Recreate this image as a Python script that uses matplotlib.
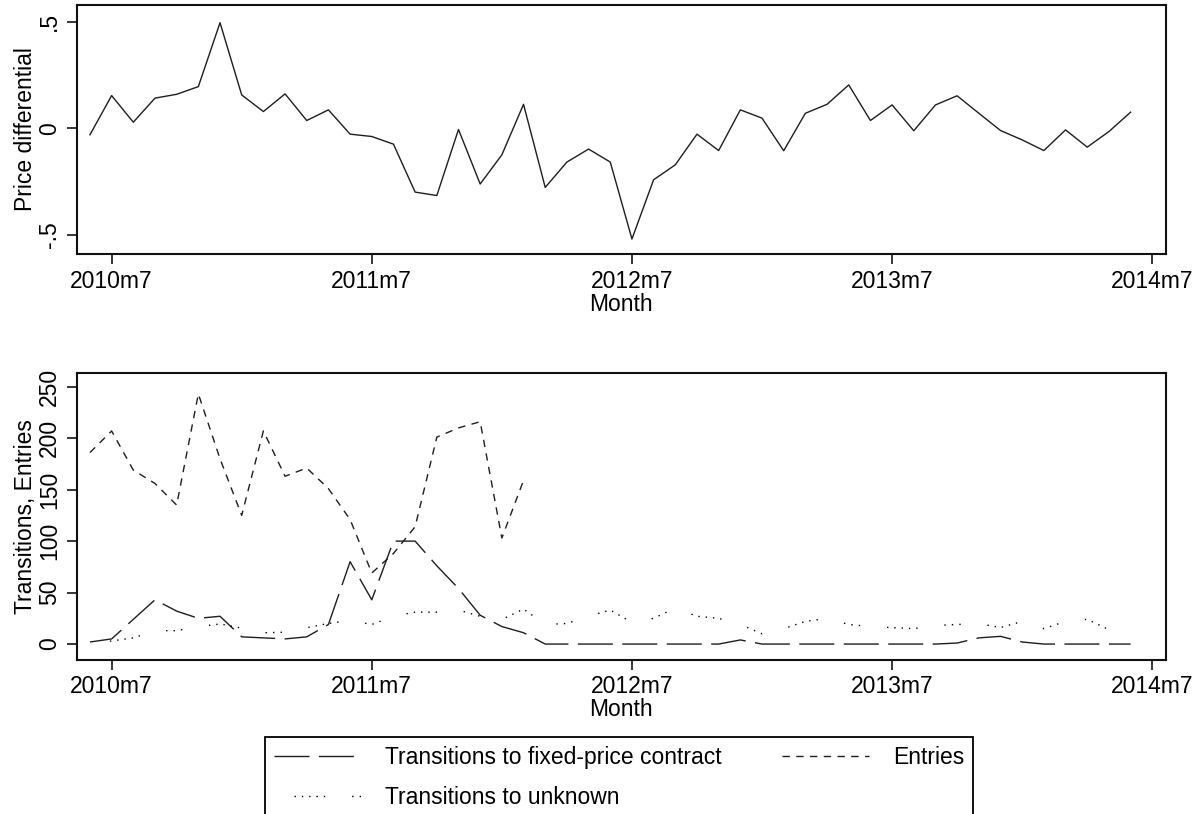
import numpy as np
import matplotlib
matplotlib.use("Agg")
import matplotlib.pyplot as plt

plt.rcParams["font.family"] = ["Liberation Sans", "DejaVu Sans"]

# Monthly series, 2010m6 .. 2014m6
first_month = "2010m6"
price_diff = [
    -0.031, 0.153, 0.028, 0.141, 0.159, 0.195, 0.495,
    0.156, 0.078, 0.161, 0.036, 0.086, -0.028, -0.039, -0.075, -0.300, -0.316, -0.006, -0.262,
    -0.125, 0.112, -0.278, -0.159, -0.098, -0.159, -0.520, -0.242, -0.172, -0.028, -0.105, 0.086,
    0.047, -0.106, 0.070, 0.112, 0.203, 0.036, 0.109, -0.012, 0.109, 0.152, 0.070, -0.011,
    -0.055, -0.105, -0.008, -0.089, -0.016, 0.075,
]
fixed_price = [
    2, 5, 24, 43, 32, 25, 27,
    7, 6, 5, 7, 19, 80, 43, 100, 100, 76, 54, 28,
    17, 11, 0, 0, 0, 0, 0, 0, 0, 0, 0, 4,
    0, 0, 0, 0, 0, 0, 0, 0, 0, 1, 6, 7.5,
    2, 0, 0, 0, 0, 0,
]
unknown = [
    1, 3, 6, 13, 13, 17, 19.5,
    15.5, 11, 11.5, 16, 20, 23, 19, 27, 31, 31, 33, 27,
    24, 34, 19, 20, 27, 33, 21, 25, 35, 27, 25, 19,
    10, 15, 22, 25, 19, 17, 16, 15, 18, 19, 20, 16,
    22, 15, 22, 24, 14, np.nan,
]
entries = [
    186, 207, 169, 156, 135, 243, 180,
    125, 207, 163, 171, 151, 121, 69, 88, 114, 201, 210, 216,
    103, 159,
]
entries = entries + [np.nan] * (len(price_diff) - len(entries))

tick_months = [1, 13, 25, 37, 49]
tick_labels = ["2010m7", "2011m7", "2012m7", "2013m7", "2014m7"]
label_fixed = "Transitions to fixed-price contract"
label_unknown = "Transitions to unknown"
label_entries = "Entries"

t = np.arange(len(price_diff))

W, H = 1203, 814
FS = 16.5
LINE_COLOR = "#1e1e1e"


def rect(left, top, right, bottom):
    return [left / W, 1 - bottom / H, (right - left) / W, (bottom - top) / H]


fig = plt.figure(figsize=(W / 100, H / 100), dpi=100)
ax1 = fig.add_axes(rect(76.5, 5, 1165.7, 253.7))
ax2 = fig.add_axes(rect(76.5, 372.7, 1165.7, 659.5))

# Line styles (on/off sequences in points)
long_dash = (0, (25.2, 6.8))
short_dash = (0, (5.3, 4.6))
dot_seq = (1.0, 4.26, 1.0, 4.26, 1.0, 4.26, 1.0, 4.26, 1.0, 19.4,
           1.0, 4.4, 1.0, 4.4, 1.0, 19.4)
dotted = (58.2, dot_seq)

# Upper panel: price differential
ax1.plot(t, price_diff, color=LINE_COLOR, lw=1.0)
ax1.set_ylim(-0.589, 0.578)
ax1.set_yticks([-0.5, 0, 0.5])
ax1.set_yticklabels(["-.5", "0", ".5"])
ax1.set_ylabel("Price differential", fontsize=FS)

# Lower panel: transitions and entries
l_fixed, = ax2.plot(t, fixed_price, color=LINE_COLOR, lw=1.0, linestyle=long_dash,
                    dash_capstyle="butt")
l_entries, = ax2.plot(t, entries, color=LINE_COLOR, lw=1.0, linestyle=short_dash,
                      dash_capstyle="butt")
l_unknown, = ax2.plot(t, unknown, color="#000000", lw=1.0, linestyle=dotted,
                      dash_capstyle="butt")
ax2.set_ylim(-15.0, 263.6)
ax2.set_yticks([0, 50, 100, 150, 200, 250])
ax2.set_yticklabels(["0", "50", "100", "150", "200", "250"])
ax2.set_ylabel("Transitions, Entries", fontsize=FS)

for ax, xlab_y in ((ax1, -0.157), (ax2, -0.133)):
    ax.set_xlim(-0.62, 49.62)
    ax.set_xticks(tick_months)
    ax.set_xticklabels(tick_labels)
    ax.set_xlabel("Month", fontsize=FS)
    ax.xaxis.set_label_coords(0.5, xlab_y)
    ax.yaxis.set_label_coords(-0.0363, 0.5)
    ax.tick_params(axis="both", direction="out", length=7, width=1.1,
                   labelsize=FS, color="black")
    ax.tick_params(axis="x", pad=4.5)
    ax.tick_params(axis="y", pad=4, labelrotation=90)
    for lab in ax.get_yticklabels():
        lab.set_verticalalignment("center")
    for sp in ax.spines.values():
        sp.set_linewidth(1.5)
        sp.set_color("#111111")

leg = fig.legend(
    [l_fixed, l_unknown, l_entries],
    [label_fixed, label_unknown, label_entries],
    ncol=2,
    loc="upper left",
    bbox_to_anchor=(265 / W, 1 - 737 / H),
    bbox_transform=fig.transFigure,
    fontsize=FS,
    frameon=True,
    fancybox=False,
    framealpha=1,
    edgecolor="black",
    borderpad=0.4,
    labelspacing=0.73,
    handlelength=3.8,
    handletextpad=1.05,
    columnspacing=2.6,
    borderaxespad=0,
)
leg.get_frame().set_linewidth(1.3)

fig.savefig("out.png", dpi=100)
